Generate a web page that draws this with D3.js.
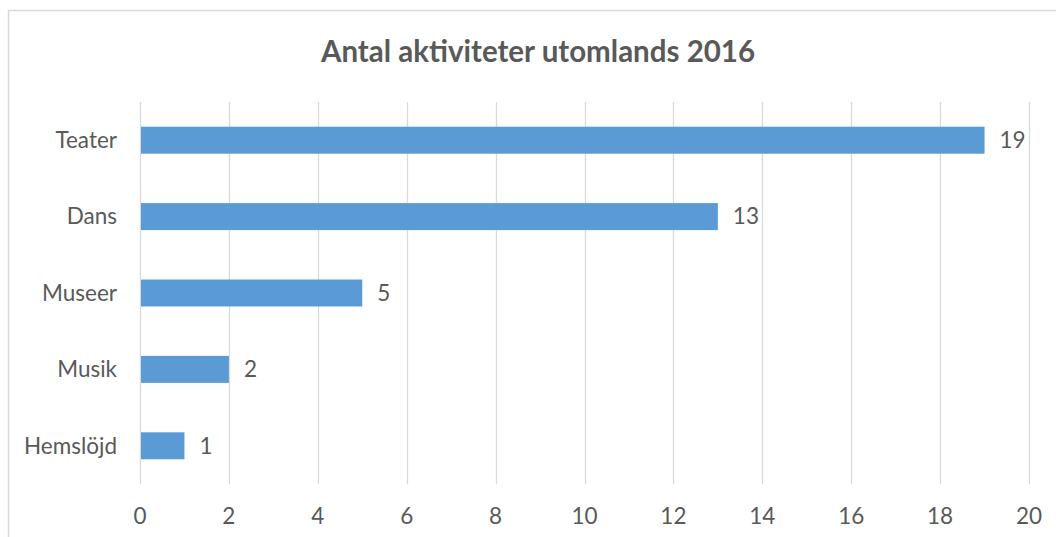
<!DOCTYPE html>
<html>
<head>
<meta charset="utf-8">
<script src="https://cdn.jsdelivr.net/npm/d3@7"></script>
<style>
  body { margin: 0; background: #fff; }
  text { font-family: Lato, "Open Sans", sans-serif; fill: #595959; }
</style>
</head>
<body>
<svg width="1056" height="537"></svg>
<script>
var categories = ["Teater", "Dans", "Museer", "Musik", "Hemslöjd"];
var values = [19, 13, 5, 2, 1];
var ticks = [0, 2, 4, 6, 8, 10, 12, 14, 16, 18, 20];
var title = "Antal aktiviteter utomlands 2016";

var svg = d3.select("svg");
var width = +svg.attr("width");
var height = +svg.attr("height");

// chart frame
svg.append("rect")
    .attr("x", 8.5).attr("y", 10.5)
    .attr("width", 1080).attr("height", 560)
    .attr("fill", "#fff")
    .attr("stroke", "#d9d9d9")
    .attr("stroke-width", 1.5);

var x = d3.scaleLinear().domain([0, 20]).range([140, 1029]);
var y = d3.scaleBand().domain(categories).range([102, 484])
    .paddingInner(0.647).paddingOuter(0.3235);

svg.append("text")
    .attr("x", 538).attr("y", 52)
    .attr("dy", "0.35em")
    .attr("text-anchor", "middle")
    .style("font-size", "29.5px")
    .style("font-weight", "bold")
    .text(title);

// gridlines
svg.append("g").selectAll("line")
    .data(ticks)
    .enter().append("line")
    .attr("x1", function (d) { return Math.round(x(d)) + 0.5; })
    .attr("x2", function (d) { return Math.round(x(d)) + 0.5; })
    .attr("y1", 102).attr("y2", 484)
    .attr("stroke", "#d9d9d9")
    .attr("stroke-width", 1.3);

var data = categories.map(function (c, i) { return {cat: c, val: values[i]}; });

svg.append("g").selectAll("rect")
    .data(data)
    .enter().append("rect")
    .attr("x", x(0) + 1)
    .attr("y", function (d) { return y(d.cat); })
    .attr("width", function (d) { return x(d.val) - x(0) - 1; })
    .attr("height", y.bandwidth())
    .attr("fill", "#5b9bd5");

svg.append("g").selectAll("text")
    .data(data)
    .enter().append("text")
    .attr("x", function (d) { return x(d.val) + 15; })
    .attr("y", function (d) { return y(d.cat) + y.bandwidth() / 2; })
    .attr("dy", "0.35em")
    .style("font-size", "22.5px")
    .text(function (d) { return d.val; });

// category labels
svg.append("g").selectAll("text")
    .data(categories)
    .enter().append("text")
    .attr("x", 117)
    .attr("y", function (d) { return y(d) + y.bandwidth() / 2; })
    .attr("dy", "0.35em")
    .attr("text-anchor", "end")
    .style("font-size", "22.5px")
    .text(function (d) { return d; });

// x tick labels
svg.append("g").selectAll("text")
    .data(ticks)
    .enter().append("text")
    .attr("x", function (d) { return x(d); })
    .attr("y", 516)
    .attr("dy", "0.35em")
    .attr("text-anchor", "middle")
    .style("font-size", "22.5px")
    .text(function (d) { return d; });
</script>
</body>
</html>
